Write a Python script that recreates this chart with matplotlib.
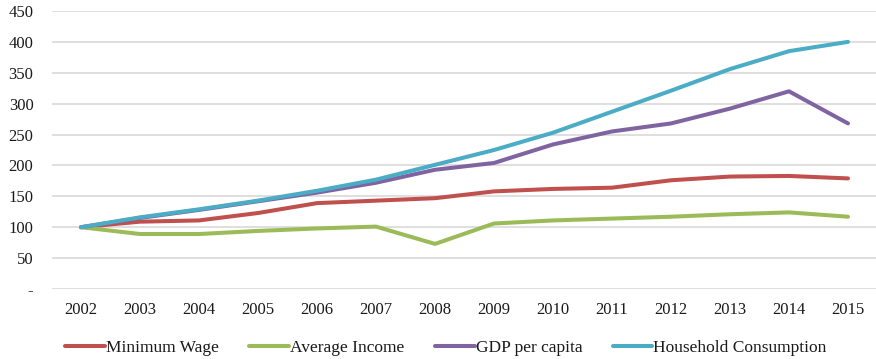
import matplotlib
matplotlib.use("Agg")
import matplotlib.pyplot as plt
from matplotlib.ticker import FuncFormatter

years = [2002, 2003, 2004, 2005, 2006, 2007, 2008, 2009, 2010, 2011, 2012, 2013, 2014, 2015]
minimum_wage = [100, 109, 111, 123, 139, 143, 147, 158, 162, 164, 176, 182, 183, 179]
average_income = [100, 89, 89, 94, 98, 101, 73, 106, 111, 114, 117, 121, 124, 117]
gdp_per_capita = [100, 115, 128, 142, 156, 172, 193, 204, 234, 255, 268, 292, 320, 268]
household_consumption = [100, 116, 129, 143, 159, 177, 201, 225, 253, 287, 321, 356, 385, 400]

series = [
    ("Minimum Wage", minimum_wage, "#C0504D"),
    ("Average Income", average_income, "#9BBB59"),
    ("GDP per capita", gdp_per_capita, "#8064A2"),
    ("Household Consumption", household_consumption, "#4BACC6"),
]

plt.rcParams["font.family"] = ["Liberation Serif", "DejaVu Serif"]

W, H = 876, 359
fig = plt.figure(figsize=(W / 100, H / 100), dpi=100)
left, right, top, bottom = 51.5, 877.5, 11, 289
ax = fig.add_axes([left / W, 1 - bottom / H, (right - left) / W, (bottom - top) / H])

for name, vals, col in series:
    ax.plot(years, vals, color=col, lw=2.9, label=name, solid_capstyle="round",
            solid_joinstyle="round", zorder=3)

ax.set_xlim(2001.5, 2015.5)
ax.set_ylim(0, 450)
ax.set_yticks(range(0, 451, 50))
ax.yaxis.set_major_formatter(FuncFormatter(lambda v, p: "-" if v == 0 else f"{int(v)}"))
ax.set_xticks(years)
ax.grid(axis="y", color="#D9D9D9", lw=1.2, zorder=0)
for s in ax.spines.values():
    s.set_visible(False)
ax.tick_params(axis="both", length=0, labelsize=12, colors="#1a1a1a")
ax.tick_params(axis="x", pad=9)
ax.tick_params(axis="y", pad=13)

leg = fig.legend(loc="center", bbox_to_anchor=(446 / W, 1 - 347.5 / H), ncol=4,
                 frameon=False, fontsize=12.5, handlelength=2.3, handletextpad=0.05,
                 columnspacing=1.75, labelcolor="#1a1a1a")

fig.savefig("out.png", dpi=100)
